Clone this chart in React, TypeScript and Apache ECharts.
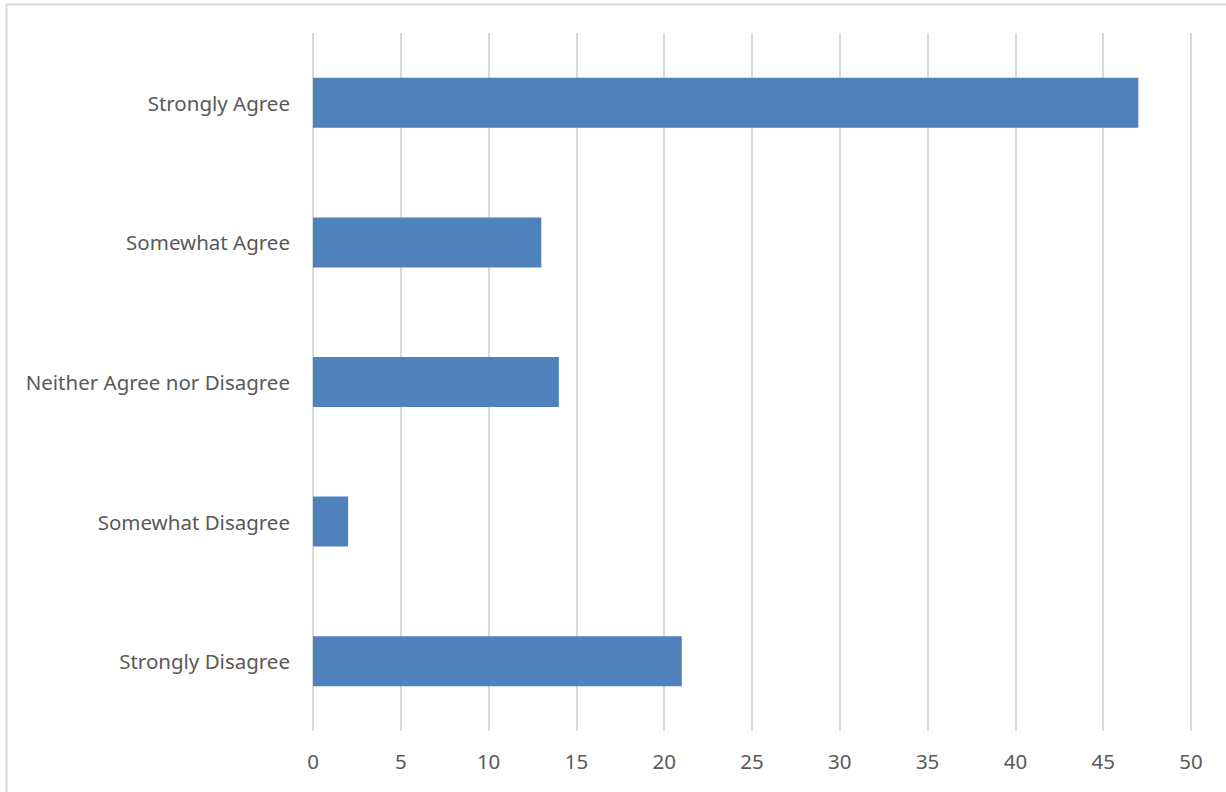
import React, { useEffect, useRef } from "react";
import * as echarts from "echarts";

const categories = [
  "Strongly Agree",
  "Somewhat Agree",
  "Neither Agree nor Disagree",
  "Somewhat Disagree",
  "Strongly Disagree",
];
const values = [47, 13, 14, 2, 21];
const xMin = 0;
const xMax = 50;
const xInterval = 5;

export default function App() {
  const ref = useRef<HTMLDivElement>(null);
  useEffect(() => {
    if (!ref.current) return;
    const chart = echarts.init(ref.current, null, { renderer: "svg" });
    chart.setOption({
      animation: false,
      backgroundColor: "#ffffff",
      textStyle: { fontFamily: "Noto Sans" },
      graphic: [
        {
          type: "rect",
          shape: { x: 6.5, y: 4.5, width: 1260, height: 820 },
          style: { fill: "none", stroke: "#d9d9d9", lineWidth: 2 },
          silent: true,
        },
      ],
      grid: { left: 313, right: 35, top: 33, bottom: 61 },
      xAxis: {
        type: "value",
        min: xMin,
        max: xMax,
        interval: xInterval,
        axisLine: { show: false },
        axisTick: { show: false },
        axisLabel: { color: "#595959", fontSize: 20.5, margin: 19 },
        splitLine: { show: true, lineStyle: { color: "#d9d9d9", width: 2 } },
      },
      yAxis: {
        type: "category",
        data: categories,
        inverse: true,
        axisLine: { show: false },
        axisTick: { show: false },
        axisLabel: { color: "#595959", fontSize: 20.5, margin: 23 },
        splitLine: { show: false },
      },
      series: [
        {
          type: "bar",
          data: values,
          barWidth: 50,
          itemStyle: { color: "#4F81BD" },
        },
      ],
    });
    return () => chart.dispose();
  }, []);
  return (
    <div
      ref={ref}
      style={{ position: "absolute", left: 0, top: 0, width: 1226, height: 792 }}
    />
  );
}
